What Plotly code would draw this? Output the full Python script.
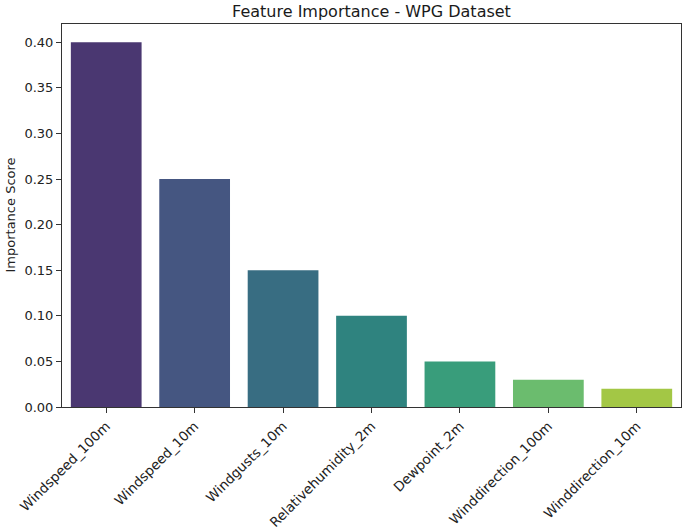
import colorsys
import plotly.graph_objects as go

features = ["Windspeed_100m", "Windspeed_10m", "Windgusts_10m", "Relativehumidity_2m",
            "Dewpoint_2m", "Winddirection_100m", "Winddirection_10m"]
importance = [0.40, 0.25, 0.15, 0.10, 0.05, 0.03, 0.02]
y_ticks = [0.00, 0.05, 0.10, 0.15, 0.20, 0.25, 0.30, 0.35, 0.40]

viridis7 = ["#472d7b", "#3b528b", "#2c728e", "#21918c", "#28ae80", "#5ec962", "#addc30"]


def desat(hx, prop=0.75):
    r, g, b = (int(hx[i:i + 2], 16) / 255 for i in (1, 3, 5))
    h, l, s = colorsys.rgb_to_hls(r, g, b)
    r, g, b = colorsys.hls_to_rgb(h, l, s * prop)
    return "#%02x%02x%02x" % (round(r * 255), round(g * 255), round(b * 255))


colors = [desat(c) for c in viridis7]

fig = go.Figure(go.Bar(x=features, y=importance, marker=dict(color=colors, line=dict(width=0)),
                       width=0.8))

font = "DejaVu Sans, sans-serif"
W, H = 685, 532
L, R, T, B = 62, 4, 24, 125
fig.update_layout(
    width=W, height=H,
    margin=dict(l=L, r=R, t=T, b=B, autoexpand=False),
    plot_bgcolor="white", paper_bgcolor="white",
    font=dict(family=font, size=13, color="#222"),
    title=dict(text="Feature Importance - WPG Dataset", x=(L + W - R) / 2 / W, xanchor="center",
               y=1 - 11 / H, yanchor="middle", yref="container",
               font=dict(size=16, family=font, color="#1a1a1a")),
    showlegend=False,
    bargap=0.2,
)
fig.update_xaxes(range=[-0.5, 6.5], showline=True, linecolor="#333", linewidth=1, mirror=True,
                 ticks="outside", ticklen=5, tickcolor="#333", tickangle=-45, showgrid=False,
                 tickfont=dict(size=13.5), automargin=False)
fig.update_yaxes(range=[0, 0.42], showline=True, linecolor="#333", linewidth=1, mirror=True,
                 ticks="outside", ticklen=5, tickcolor="#333", showgrid=False, zeroline=False,
                 tickvals=y_ticks, ticktext=["%.2f" % v for v in y_ticks],
                 tickfont=dict(size=13), automargin=False)
fig.add_annotation(text="Importance Score", textangle=-90, xref="paper", yref="paper",
                   x=-(L - 10) / (W - L - R), y=0.5, xanchor="center", yanchor="middle",
                   showarrow=False, font=dict(size=13, family=font, color="#222"))

fig.write_html("out.html", config={"displayModeBar": False},
               post_script="document.body.style.margin='0';")
